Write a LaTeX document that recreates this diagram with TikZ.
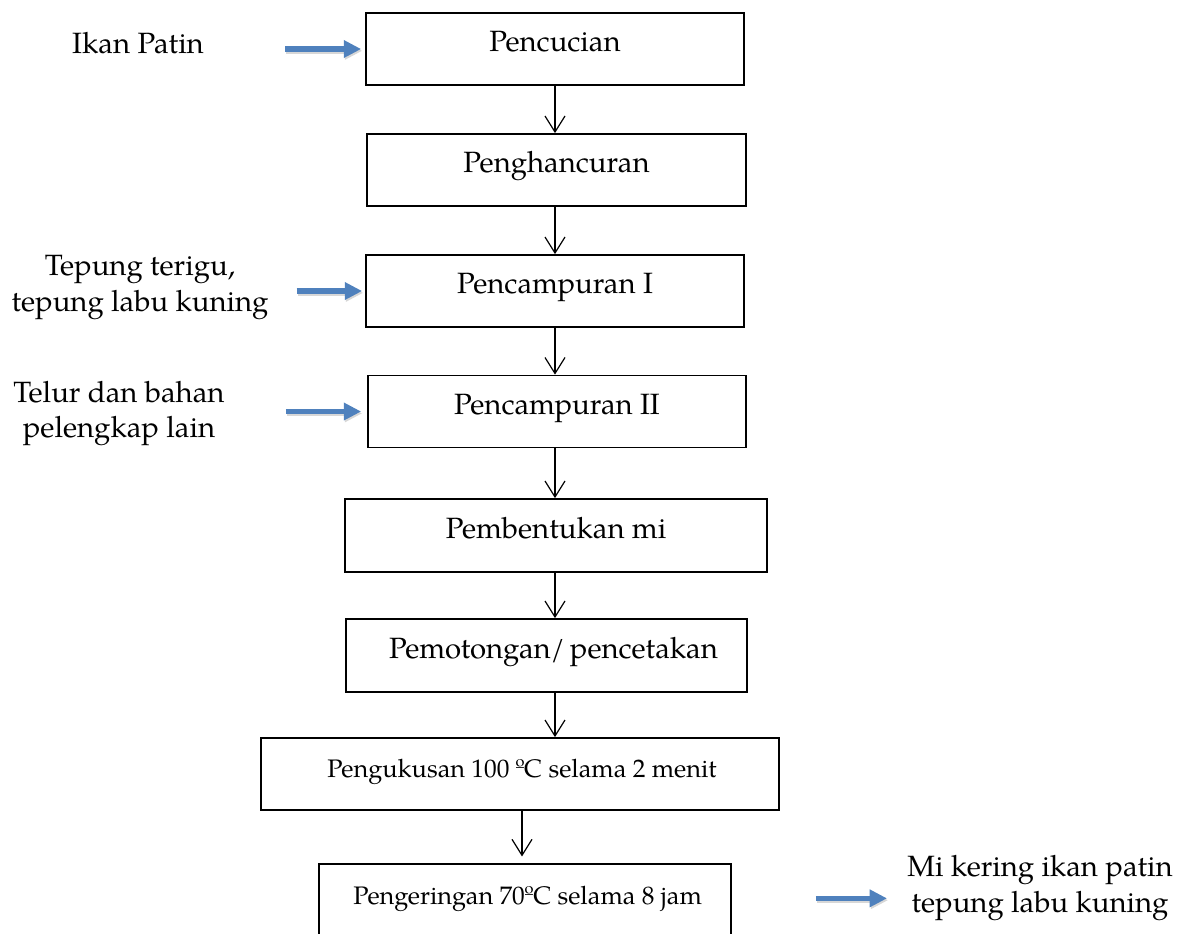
\documentclass[tikz,border=0pt]{standalone}
\usepackage{fontspec}
\setmainfont{TeX Gyre Pagella}
\usetikzlibrary{arrows.meta}
\definecolor{arrowblue}{HTML}{4F81BD}
\begin{document}
\begin{tikzpicture}[x=0.75pt,y=-0.75pt,
  every node/.style={font=\fontsize{22}{26.5}\selectfont},
  stepbox/.style={draw, line width=1.3pt, minimum height=54pt, inner sep=0pt,
    text height=15pt, text depth=10.5pt},
  smallbox/.style={stepbox, font=\fontsize{19}{23}\selectfont},
  label/.style={inner sep=0pt, align=center},
  flow/.style={line width=0.9pt, -{Straight Barb[length=12pt,width=15pt]}},
  inarrow/.style={line width=4pt, arrowblue,
    -{Triangle[length=13pt,width=12.5pt]},
    preaction={draw=black!45, opacity=0.35, line width=4pt,
      transform canvas={shift={(0.8pt,-1.4pt)}}}}
]
\useasboundingbox (0,0) rectangle (1183,934);
\clip (0,0) rectangle (1183,934);

% process boxes
\node[stepbox, minimum width=283.5pt]  (b1) at (555,49)    {Pencucian};
\node[stepbox, minimum width=284.25pt] (b2) at (556.5,170) {Penghancuran};
\node[stepbox, minimum width=283.5pt]  (b3) at (555,291)   {Pencampuran I};
\node[stepbox, minimum width=283.5pt]  (b4) at (557,411.5) {Pencampuran II};
\node[stepbox, minimum width=316.5pt, minimum height=54.75pt] (b5) at (556,535.5) {Pembentukan mi};
\node[stepbox, minimum width=300.75pt, minimum height=54.75pt] (b6) at (546.5,655.5) {\hspace*{10.5pt}Pemotongan/\,pencetakan};
\node[smallbox, minimum width=388.5pt] (b7) at (520,774) {\hspace*{3pt}Pengukusan 100 ºC selama 2 menit};
\node[smallbox, minimum width=309pt, minimum height=55.5pt] (b8) at (525,901) {\hspace*{4pt}Pengeringan 70ºC selama 8 jam};

% side labels
\node[label, anchor=base] (ikan) at (138,54) {Ikan Patin};
\node[label] (tepung) at (140,287.5) {Tepung terigu,\\tepung labu kuning};
\node[label] (telur) at (119,413.5) {Telur dan bahan\\pelengkap lain};
\node[label] (out) at (1040,888) {Mi kering ikan patin\\tepung labu kuning};

% vertical flow arrows
\draw[flow] (b1.south -| b1.south) -- (b2.north -| b1.south);
\draw[flow] (b2.south -| b1.south) -- (b3.north -| b1.south);
\draw[flow] (b3.south -| b1.south) -- (b4.north -| b1.south);
\draw[flow] (b4.south -| b1.south) -- (b5.north -| b1.south);
\draw[flow] (b5.south -| b1.south) -- (b6.north -| b1.south);
\draw[flow] (b6.south -| b1.south) -- (b7.north -| b1.south);
\draw[flow, shorten >=5pt] ([xshift=1.5pt]b7.south) -- ([xshift=1.5pt]b7.south |- b8.north);

% blue input / output arrows
\draw[inarrow, shorten <=60.75pt, shorten >=3pt] (b1.west -| ikan.east) -- (b1.west);
\draw[inarrow, shorten <=21pt, shorten >=2.25pt] (b3.west -| tepung.east) -- (b3.west);
\draw[inarrow, shorten <=45.75pt, shorten >=4.5pt] (b4.west -| telur.east) -- (b4.west);
\draw[inarrow, shorten <=63pt, shorten >=15pt] ([yshift=2pt]b8.east) -- ([yshift=2pt]b8.east -| out.west);
\end{tikzpicture}
\end{document}
